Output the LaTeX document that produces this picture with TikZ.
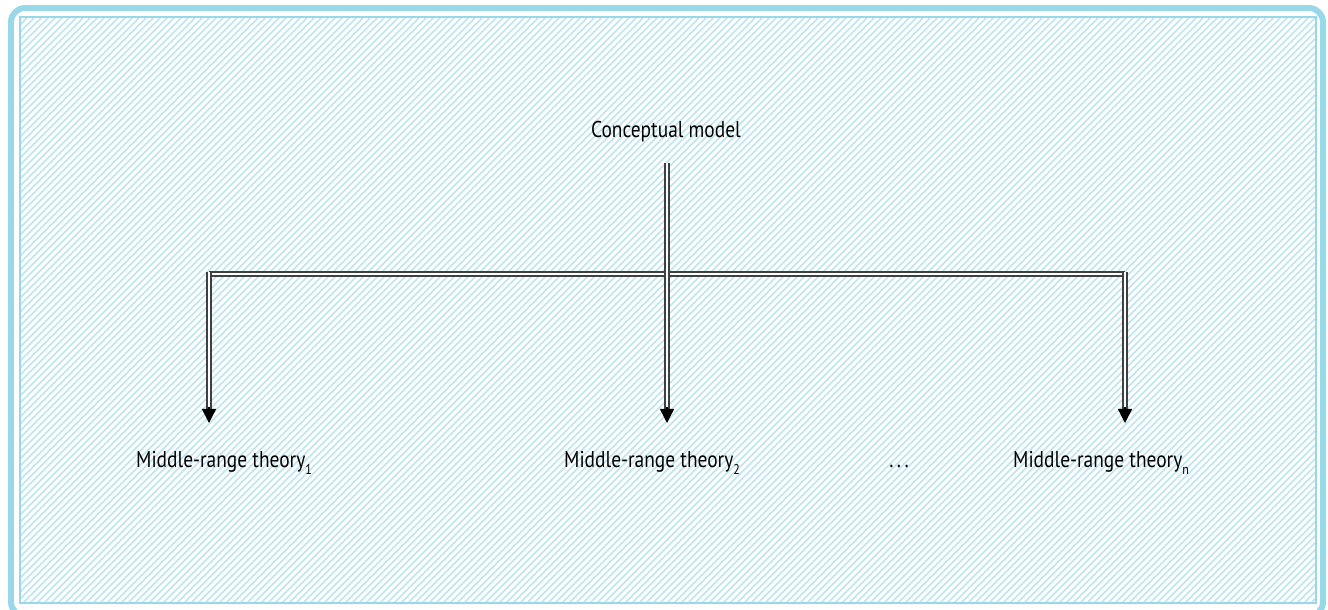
\documentclass[tikz,border=0pt]{standalone}
\usepackage{fontspec}
\setmainfont{PT Sans}[FakeStretch=0.85]
\usetikzlibrary{arrows.meta,positioning,calc}
\newcommand{\lowsub}[1]{\raisebox{-4.5pt}{\fontsize{8}{9}\selectfont #1}}

\begin{document}
\begin{tikzpicture}[x=0.02cm,y=-0.02cm,
    label/.style={font=\fontsize{13}{15}\selectfont, inner sep=0pt, anchor=base},
    link/.style={draw=black!75, line width=0.75pt, double=white, double distance=1.5pt},
    tip/.style={-{Triangle[width=8pt,length=8pt]}, black, line width=0.75pt}
]
% Define palette
\definecolor{framecyan}{RGB}{152, 216, 232}
\definecolor{hatchcyan}{RGB}{190, 229, 240}

\useasboundingbox (0,0) rectangle (1328,609);

% frame and hatched panel
\draw[framecyan, line width=3.4pt, rounded corners=8pt] (11,8) rectangle (1323,616);
\begin{scope}
    \clip (20,17) rectangle (1316,603);
    \foreach \k in {-600,-593,...,1320} {
        \draw[hatchcyan, line width=0.95pt] (\k,603) -- (\k+586,17);
    }
\end{scope}
\draw[framecyan, line width=0.6pt] (20,17) rectangle (1316,603);

% labels
\node[label] (concept) at (666,137) {Conceptual model};
\node[label] (theory1) at (224,467) {Middle-range theory\lowsub{1}};
\node[label] (theory2) at (652,467) {Middle-range theory\lowsub{2}};
\node[label] (dots)    at (899,467) {.\kern2pt.\kern2pt.};
\node[label] (theoryn) at (1101,467) {Middle-range theory\lowsub{n}};

% ends of the connectors
\coordinate (top)  at (667,163);
\coordinate (busL) at (209,274);
\coordinate (busR) at (1125,274);
\coordinate (in1)  at (209,423);
\coordinate (in2)  at (667,423);
\coordinate (inn)  at (1125,423);

% double connectors
\draw[link] (busL) -- (busR);
\draw[link] (in1 |- 0,410) -- (busL) -- ++(0,-2);
\draw[link] (inn |- 0,410) -- (busR) -- ++(0,-2);
\draw[link] (top) -- (in2 |- 0,410);

% arrow heads
\foreach \t in {in1,in2,inn} {
    \draw[tip] ($(\t)+(0,-16)$) -- (\t);
}
\end{tikzpicture}
\end{document}
